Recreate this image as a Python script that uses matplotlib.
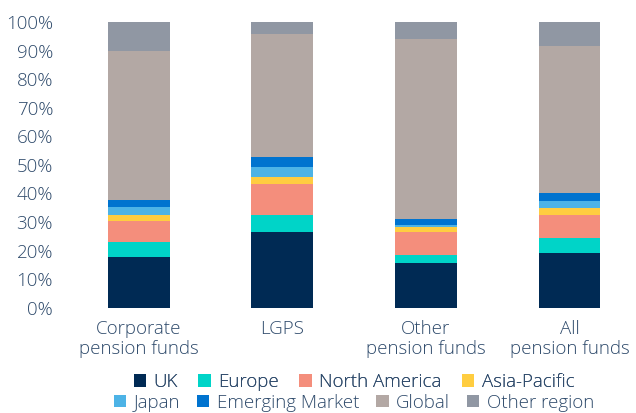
import matplotlib
matplotlib.use('Agg')
import matplotlib.pyplot as plt
from matplotlib.patches import Patch
import numpy as np

# ---------------------------------------------------------#
# Data: share of equity allocation by region (%)           #
# ---------------------------------------------------------#
categories = ['Corporate\npension funds', 'LGPS', 'Other\npension funds', 'All\npension funds']

uk        = [17.7, 26.6, 15.6, 19.1]
europe    = [5.4, 5.8, 2.8, 5.4]
n_america = [7.2, 10.9, 8.1, 7.9]
asia_pac  = [2.1, 2.4, 1.7, 2.5]
japan     = [3.0, 3.5, 0.7, 2.4]
emerging  = [2.3, 3.5, 2.1, 2.8]
global_   = [52.1, 43.1, 63.1, 51.5]
other     = [10.2, 4.2, 5.9, 8.4]

series_labels = ['UK', 'Europe', 'North America', 'Asia-Pacific',
                 'Japan', 'Emerging Market', 'Global', 'Other region']
series_values = [uk, europe, n_america, asia_pac, japan, emerging, global_, other]
colors = ['#002a54', '#00d4c8', '#f48e7c', '#ffcd40',
          '#4db3e6', '#0073cf', '#b3a8a4', '#9097a3']

text_color = '#2e4a6b'
fsize = 13.5
plt.rcParams['font.family'] = ['Open Sans', 'DejaVu Sans']
plt.rcParams['font.weight'] = 'light'

# ---------------------------------------------------------#
# Plot                                                     #
# ---------------------------------------------------------#
fig = plt.figure(figsize=(6.36, 4.13), dpi=100)
ax = fig.add_axes([67/636, 1-307.7/413, (634-67)/636, (307.7-22)/413])

x = np.arange(len(categories))
bottom = np.zeros(len(categories))
for vals, col, lab in zip(series_values, colors, series_labels):
    ax.bar(x, vals, width=0.43, bottom=bottom, color=col, label=lab, linewidth=0)
    bottom += np.array(vals)

ax.set_ylim(0, 100)
ax.set_xlim(-0.5, 3.45)
ax.set_yticks(np.arange(0, 101, 10))
ax.set_yticklabels(['%d%%' % v for v in range(0, 101, 10)])
ax.set_xticks(x)
ax.set_xticklabels(categories, linespacing=1.15)
ax.tick_params(axis='both', length=0, labelsize=fsize, labelcolor=text_color)
ax.tick_params(axis='y', pad=10)
ax.tick_params(axis='x', pad=9)
for s in ax.spines.values():
    s.set_visible(False)

# two flow-style legend rows
handles = [Patch(facecolor=c, edgecolor='none') for c in colors]
kw = dict(loc='center', frameon=False, ncol=4, fontsize=fsize, labelcolor=text_color,
          handlelength=0.65, handleheight=0.65, handletextpad=0.4,
          borderpad=0, borderaxespad=0)
leg1 = fig.legend(handles[:4], series_labels[:4], bbox_to_anchor=(354/636, 1-382/413),
                  columnspacing=1.1, **kw)
fig.add_artist(leg1)
fig.legend(handles[4:], series_labels[4:], bbox_to_anchor=(354/636, 1-402.5/413),
           columnspacing=0.9, **kw)

fig.savefig('out.png', dpi=100)
